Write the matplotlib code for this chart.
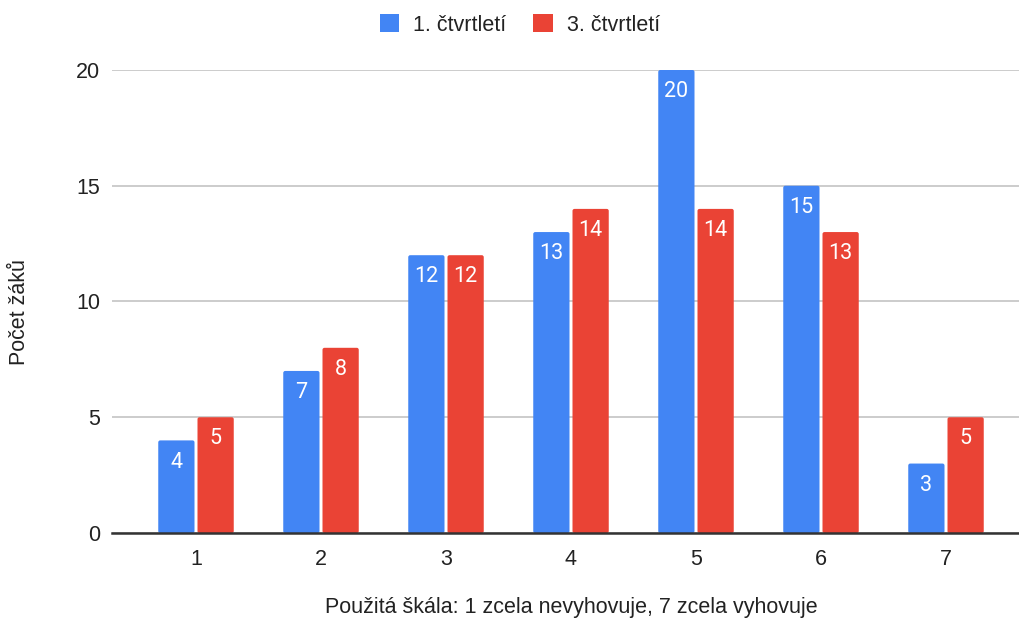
import matplotlib
matplotlib.use("Agg")
import matplotlib.pyplot as plt
from matplotlib.patches import Patch, FancyBboxPatch
import numpy as np

plt.rcParams['font.family'] = ['Liberation Sans', 'DejaVu Sans']

categories = ["1", "2", "3", "4", "5", "6", "7"]
series_names = ["1. čtvrtletí", "3. čtvrtletí"]
q1_values = [4, 7, 12, 13, 20, 15, 3]
q3_values = [5, 8, 12, 14, 14, 13, 5]
y_ticks = [0, 5, 10, 15, 20]
x_label = "Použitá škála: 1 zcela nevyhovuje, 7 zcela vyhovuje"
y_label = "Počet žáků"

BLUE = "#4285F4"
RED = "#EA4335"
TEXT = "#222222"
FS = 15.5

fig = plt.figure(figsize=(10.2, 6.2), dpi=100)
ax = fig.add_axes([112 / 1020, 1 - 533 / 620, (1030 - 112) / 1020, (533 - 70) / 620])

x = np.arange(len(categories))
w = 0.29
off = 0.157
ax.set_xlim(-0.672, len(categories) - 1 + 0.672)
ax.set_ylim(0, 20)

bars1 = ax.bar(x - off, q1_values, width=w, color=BLUE, zorder=3, linewidth=0)
bars2 = ax.bar(x + off, q3_values, width=w, color=RED, zorder=3, linewidth=0)

# Give each bar slightly rounded corners, keeping the geometry of the bar
fig.canvas.draw()
bbox = ax.get_window_extent()
xpx = bbox.width / (ax.get_xlim()[1] - ax.get_xlim()[0])
ypx = bbox.height / (ax.get_ylim()[1] - ax.get_ylim()[0])
radius = 2.0 / xpx
for bars in (bars1, bars2):
    for b in bars:
        rb = FancyBboxPatch((b.get_x(), b.get_y()), b.get_width(), b.get_height(),
                            boxstyle=f"round,pad=0,rounding_size={radius}",
                            mutation_aspect=xpx / ypx,
                            facecolor=b.get_facecolor(), edgecolor="none", zorder=3)
        ax.add_patch(rb)
        b.set_visible(False)

for bars, vals in ((bars1, q1_values), (bars2, q3_values)):
    for b, v in zip(bars, vals):
        ax.annotate(str(v), xy=(b.get_x() + b.get_width() / 2, v),
                    xytext=(0, -8.0), textcoords="offset points",
                    ha="center", va="top", color="white", fontsize=15.5,
                    family=["Roboto", "DejaVu Sans"], zorder=4)

ax.set_yticks(y_ticks)
ax.set_xticks(x)
ax.set_xticklabels(categories)
ax.tick_params(axis="both", length=0, labelsize=15.5, labelcolor=TEXT)
ax.tick_params(axis="y", pad=8.5)
ax.tick_params(axis="x", pad=11.5)
ax.yaxis.grid(True, color="#CCCCCC", linewidth=1.4, zorder=0)
for s in ("top", "right", "left"):
    ax.spines[s].set_visible(False)
ax.spines["bottom"].set_color("#333333")
ax.spines["bottom"].set_linewidth(1.8)
ax.spines["bottom"].set_zorder(5)

fig.text(571 / 1020, 1 - 607 / 620, x_label, ha="center", va="center",
         fontsize=FS, color=TEXT)
fig.text(20 / 1020, 1 - 312 / 620, y_label, ha="center", va="center",
         rotation=90, fontsize=FS, color=TEXT)

handles = [Patch(facecolor=BLUE, edgecolor="none"), Patch(facecolor=RED, edgecolor="none")]
leg = fig.legend(handles, series_names, loc="center", bbox_to_anchor=(520 / 1020, 1 - 25 / 620),
                 ncol=2, frameon=False, fontsize=FS, handlelength=0.92, handleheight=0.92,
                 handletextpad=0.65, columnspacing=1.25)
for t in leg.get_texts():
    t.set_color(TEXT)

fig.savefig("out.png", dpi=100)
